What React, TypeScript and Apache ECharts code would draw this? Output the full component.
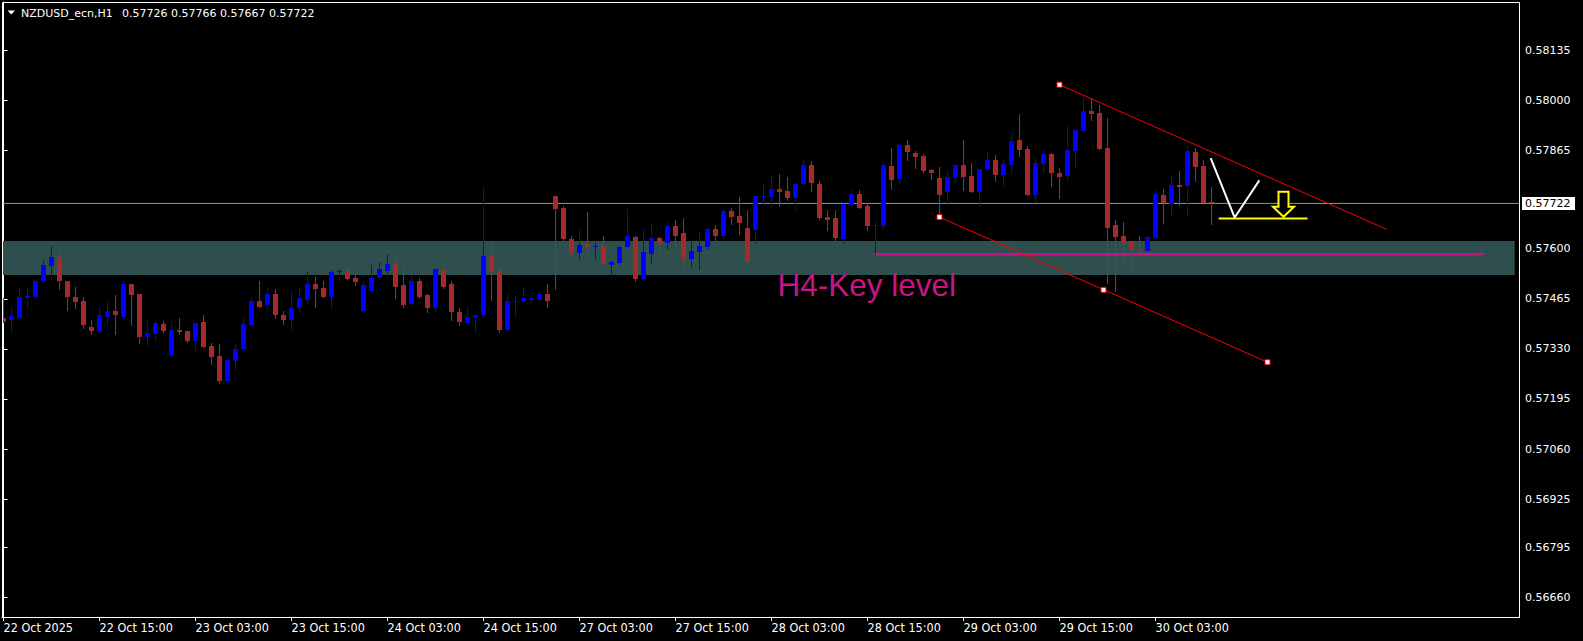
import React, { useEffect, useRef } from "react";
import * as echarts from "echarts";

// ---- chart data (hourly bars, index 0 = 22 Oct 03:00) ----
const opens = [
  0.57414, 0.57407, 0.57414, 0.57467, 0.57469, 0.57512, 0.57552, 0.57577, 0.57512, 0.57469,
  0.57458, 0.57390, 0.57376, 0.57417, 0.57433, 0.57417, 0.57506, 0.57477, 0.57363, 0.57371,
  0.57398, 0.57311, 0.57382, 0.57379, 0.57352, 0.57403, 0.57338, 0.57311, 0.57244, 0.57298,
  0.57330, 0.57395, 0.57460, 0.57447, 0.57479, 0.57422, 0.57409, 0.57439, 0.57463, 0.57506,
  0.57493, 0.57469, 0.57538, 0.57539, 0.57520, 0.57433, 0.57487, 0.57520, 0.57539, 0.57558,
  0.57501, 0.57450, 0.57514, 0.57474, 0.57439, 0.57542, 0.57504, 0.57430, 0.57401, 0.57412,
  0.57420, 0.57580, 0.57539, 0.57382, 0.57455, 0.57458, 0.57463, 0.57463, 0.57479, 0.57742,
  0.57710, 0.57626, 0.57588, 0.57612, 0.57604, 0.57607, 0.57555, 0.57561, 0.57604, 0.57631,
  0.57517, 0.57585, 0.57628, 0.57615, 0.57661, 0.57642, 0.57571, 0.57590, 0.57604, 0.57653,
  0.57634, 0.57702, 0.57688, 0.57655, 0.57650, 0.57739, 0.57739, 0.57761, 0.57756, 0.57737,
  0.57775, 0.57826, 0.57775, 0.57685, 0.57683, 0.57626, 0.57718, 0.57748, 0.57715, 0.57662,
  0.57661, 0.57823, 0.57788, 0.57880, 0.57859, 0.57850, 0.57813, 0.57791, 0.57753, 0.57791,
  0.57826, 0.57796, 0.57753, 0.57815, 0.57840, 0.57799, 0.57826, 0.57894, 0.57870, 0.57745,
  0.57829, 0.57856, 0.57805, 0.57796, 0.57864, 0.57918, 0.57970, 0.57967, 0.57872, 0.57664,
  0.57634, 0.57620, 0.57597, 0.57593, 0.57628, 0.57745, 0.57720, 0.57772, 0.57769, 0.57861,
  0.57823, 0.57726,
];
const highs = [
  0.57466, 0.57444, 0.57496, 0.57496, 0.57518, 0.57569, 0.57607, 0.57590, 0.57512, 0.57496,
  0.57471, 0.57409, 0.57441, 0.57460, 0.57474, 0.57514, 0.57506, 0.57479, 0.57406, 0.57406,
  0.57406, 0.57398, 0.57414, 0.57379, 0.57401, 0.57422, 0.57347, 0.57344, 0.57306, 0.57347,
  0.57417, 0.57471, 0.57512, 0.57496, 0.57490, 0.57433, 0.57482, 0.57496, 0.57536, 0.57523,
  0.57512, 0.57542, 0.57544, 0.57550, 0.57528, 0.57512, 0.57555, 0.57563, 0.57585, 0.57574,
  0.57547, 0.57528, 0.57520, 0.57479, 0.57544, 0.57566, 0.57512, 0.57439, 0.57444, 0.57422,
  0.57764, 0.57620, 0.57550, 0.57477, 0.57474, 0.57496, 0.57477, 0.57487, 0.57504, 0.57742,
  0.57715, 0.57634, 0.57653, 0.57699, 0.57618, 0.57634, 0.57566, 0.57607, 0.57707, 0.57634,
  0.57653, 0.57666, 0.57631, 0.57672, 0.57677, 0.57683, 0.57620, 0.57645, 0.57658, 0.57664,
  0.57707, 0.57710, 0.57739, 0.57704, 0.57742, 0.57777, 0.57799, 0.57802, 0.57794, 0.57777,
  0.57840, 0.57837, 0.57783, 0.57704, 0.57704, 0.57726, 0.57758, 0.57758, 0.57723, 0.57672,
  0.57834, 0.57872, 0.57883, 0.57894, 0.57864, 0.57856, 0.57815, 0.57821, 0.57810, 0.57826,
  0.57894, 0.57832, 0.57815, 0.57861, 0.57853, 0.57842, 0.57913, 0.57962, 0.57878, 0.57845,
  0.57867, 0.57859, 0.57818, 0.57932, 0.57921, 0.58010, 0.58005, 0.57986, 0.57951, 0.57677,
  0.57672, 0.57620, 0.57634, 0.57634, 0.57758, 0.57761, 0.57796, 0.57810, 0.57880, 0.57872,
  0.57840, 0.57766,
];
const lows = [
  0.57402, 0.57376, 0.57414, 0.57441, 0.57469, 0.57512, 0.57518, 0.57490, 0.57436, 0.57441,
  0.57387, 0.57371, 0.57376, 0.57395, 0.57371, 0.57414, 0.57395, 0.57347, 0.57341, 0.57357,
  0.57376, 0.57311, 0.57371, 0.57349, 0.57328, 0.57336, 0.57290, 0.57238, 0.57244, 0.57276,
  0.57330, 0.57395, 0.57444, 0.57441, 0.57412, 0.57398, 0.57382, 0.57433, 0.57450, 0.57444,
  0.57469, 0.57439, 0.57512, 0.57517, 0.57501, 0.57433, 0.57487, 0.57517, 0.57528, 0.57466,
  0.57444, 0.57447, 0.57466, 0.57428, 0.57428, 0.57493, 0.57409, 0.57393, 0.57401, 0.57379,
  0.57417, 0.57463, 0.57376, 0.57379, 0.57422, 0.57458, 0.57455, 0.57463, 0.57444, 0.57490,
  0.57622, 0.57582, 0.57574, 0.57593, 0.57574, 0.57555, 0.57528, 0.57558, 0.57604, 0.57512,
  0.57515, 0.57561, 0.57593, 0.57599, 0.57609, 0.57550, 0.57553, 0.57544, 0.57599, 0.57623,
  0.57628, 0.57666, 0.57639, 0.57563, 0.57615, 0.57723, 0.57710, 0.57715, 0.57731, 0.57704,
  0.57772, 0.57756, 0.57680, 0.57650, 0.57620, 0.57615, 0.57712, 0.57710, 0.57650, 0.57585,
  0.57653, 0.57761, 0.57777, 0.57840, 0.57818, 0.57807, 0.57788, 0.57685, 0.57720, 0.57780,
  0.57758, 0.57753, 0.57715, 0.57815, 0.57783, 0.57769, 0.57807, 0.57850, 0.57745, 0.57729,
  0.57810, 0.57769, 0.57737, 0.57788, 0.57818, 0.57918, 0.57948, 0.57870, 0.57507, 0.57485,
  0.57563, 0.57539, 0.57577, 0.57593, 0.57628, 0.57669, 0.57688, 0.57718, 0.57688, 0.57783,
  0.57723, 0.57667,
];
const closes = [
  0.57403, 0.57418, 0.57469, 0.57472, 0.57514, 0.57555, 0.57577, 0.57512, 0.57469, 0.57455,
  0.57393, 0.57379, 0.57420, 0.57433, 0.57420, 0.57504, 0.57474, 0.57363, 0.57374, 0.57401,
  0.57379, 0.57382, 0.57376, 0.57352, 0.57401, 0.57336, 0.57309, 0.57244, 0.57301, 0.57330,
  0.57398, 0.57460, 0.57444, 0.57479, 0.57420, 0.57409, 0.57441, 0.57466, 0.57506, 0.57490,
  0.57469, 0.57536, 0.57540, 0.57517, 0.57509, 0.57501, 0.57520, 0.57544, 0.57558, 0.57496,
  0.57447, 0.57514, 0.57471, 0.57439, 0.57544, 0.57498, 0.57428, 0.57403, 0.57417, 0.57422,
  0.57580, 0.57536, 0.57382, 0.57458, 0.57460, 0.57466, 0.57467, 0.57479, 0.57460, 0.57707,
  0.57625, 0.57588, 0.57609, 0.57604, 0.57607, 0.57558, 0.57563, 0.57604, 0.57634, 0.57517,
  0.57590, 0.57628, 0.57615, 0.57661, 0.57634, 0.57571, 0.57593, 0.57607, 0.57653, 0.57634,
  0.57702, 0.57685, 0.57669, 0.57563, 0.57742, 0.57742, 0.57761, 0.57753, 0.57737, 0.57775,
  0.57826, 0.57777, 0.57683, 0.57677, 0.57628, 0.57720, 0.57748, 0.57710, 0.57661, 0.57664,
  0.57826, 0.57786, 0.57880, 0.57861, 0.57848, 0.57810, 0.57805, 0.57745, 0.57794, 0.57826,
  0.57794, 0.57753, 0.57815, 0.57840, 0.57799, 0.57829, 0.57891, 0.57867, 0.57745, 0.57832,
  0.57856, 0.57805, 0.57794, 0.57867, 0.57921, 0.57972, 0.57964, 0.57870, 0.57655, 0.57631,
  0.57615, 0.57596, 0.57594, 0.57631, 0.57748, 0.57723, 0.57772, 0.57767, 0.57864, 0.57821,
  0.57723, 0.57722,
];

// time axis ticks (bar index -> label)
const tickIndexes = [0, 12, 24, 36, 48, 60, 72, 84, 96, 108, 120, 132, 144];
const tickLabels = [
  "22 Oct 2025", "22 Oct 15:00", "23 Oct 03:00", "23 Oct 15:00", "24 Oct 03:00",
  "24 Oct 15:00", "27 Oct 03:00", "27 Oct 15:00", "28 Oct 03:00", "28 Oct 15:00",
  "29 Oct 03:00", "29 Oct 15:00", "30 Oct 03:00",
];
// price scale labels
const priceTicks = [
  0.58135, 0.58, 0.57865, 0.576, 0.57465, 0.5733, 0.57195, 0.5706, 0.56925, 0.56795, 0.5666,
];

const symbolTitle = "NZDUSD_ecn,H1";
const lastBarOHLC = [0.57726, 0.57766, 0.57667, 0.57722];

// drawn objects (bar index, price)
const zoneBars = [-2, 188.9];
const zonePrices = [0.57529, 0.5762];
const keyLevelLine = [[109, 0.57585], [185, 0.57585]];
const channelUpper = [[132, 0.58042], [172.9, 0.57652]];
const channelLower = [[117, 0.57685], [158, 0.57294]];
const channelAnchors = [[132, 0.58042], [117, 0.57685], [137.5, 0.57489], [158, 0.57294]];
const vPath = [[150.9, 0.57844], [153.9, 0.57684], [156.98, 0.57784]];
const targetLine = [[151.9, 0.57681], [163, 0.57681]];
const arrowTip = [[160, 0.57686]];
const keyLabel = [[96.75, 0.57501, "H4-Key level"]];

// axis ranges
const X_MIN = -0.1875;
const X_MAX = 189.4375;
const Y_MIN = 0.566072;
const Y_MAX = 0.582649;

const BULL = "#0000FF";
const BEAR = "#A52A2A";

export default function App() {
  const ref = useRef<HTMLDivElement>(null);

  useEffect(() => {
    if (!ref.current) return;
    const chart = echarts.init(ref.current, undefined, { renderer: "svg" });

    const candleData = opens.map((o, i) => [i, o, highs[i], lows[i], closes[i]]);
    const lastClose = closes[closes.length - 1];

    const labelFont = '"Liberation Sans Narrow", "DejaVu Sans Condensed", "Liberation Sans", sans-serif';

    const option: any = {
      animation: false,
      backgroundColor: "#000000",
      grid: {
        left: 2,
        top: 2,
        width: 1517,
        height: 615,
        show: false,
        containLabel: false,
        outerBoundsMode: "none",
      },
      xAxis: {
        type: "value",
        min: X_MIN,
        max: X_MAX,
        position: "bottom",
        splitLine: { show: false },
        axisLine: { show: true, lineStyle: { color: "#ffffff", width: 1 } },
        axisTick: {
          show: true,
          customValues: tickIndexes,
          length: 4,
          lineStyle: { color: "#ffffff", width: 1 },
        },
        axisLabel: {
          show: true,
          customValues: tickIndexes,
          formatter: (v: number) => tickLabels[tickIndexes.indexOf(Math.round(v))] ?? "",
          color: "#ffffff",
          fontFamily: labelFont,
          fontSize: 12.5,
          align: "left",
          margin: 4,
        },
      },
      yAxis: {
        type: "value",
        min: Y_MIN,
        max: Y_MAX,
        position: "right",
        scale: true,
        splitLine: { show: false },
        axisLine: { show: true, lineStyle: { color: "#ffffff", width: 1 } },
        axisTick: {
          show: true,
          customValues: priceTicks,
          length: 4,
          lineStyle: { color: "#ffffff", width: 1 },
        },
        axisLabel: {
          show: true,
          customValues: priceTicks,
          formatter: (v: number) => v.toFixed(5),
          color: "#ffffff",
          fontFamily: '"DejaVu Sans", sans-serif',
          fontSize: 11,
          align: "left",
          margin: 6,
        },
      },
      graphic: {
        elements: [
          {
            type: "rect",
            silent: true,
            z: 100,
            shape: { x: 2.5, y: 2.5, width: 1517, height: 615 },
            style: { fill: "transparent", stroke: "#ffffff", lineWidth: 1 },
          },
          {
            type: "polygon",
            silent: true,
            z: 100,
            shape: { points: [[7.5, 10.5], [15, 10.5], [11.25, 14.5]] },
            style: { fill: "#ffffff" },
          },
          {
            type: "text",
            silent: true,
            z: 100,
            x: 21,
            y: 13,
            style: {
              text: symbolTitle,
              fill: "#ffffff",
              fontSize: 11,
              fontFamily: '"DejaVu Sans", sans-serif',
              verticalAlign: "middle",
              align: "left",
            },
          },
          {
            type: "text",
            silent: true,
            z: 100,
            x: 122,
            y: 13,
            style: {
              text: lastBarOHLC.map((v) => v.toFixed(5)).join(" "),
              fill: "#ffffff",
              fontSize: 11,
              fontFamily: '"DejaVu Sans", sans-serif',
              verticalAlign: "middle",
              align: "left",
            },
          },
        ],
      },
      series: [
        {
          name: "zone",
          type: "custom",
          z: 1,
          silent: true,
          clip: true,
          data: [[zoneBars[0], zoneBars[1], zonePrices[0], zonePrices[1]]],
          renderItem: (params: any, api: any) => {
            const a = api.coord([api.value(0), api.value(3)]);
            const b = api.coord([api.value(1), api.value(2)]);
            const cs = params.coordSys;
            const x1 = Math.max(a[0], cs.x);
            const x2 = Math.min(b[0], cs.x + cs.width);
            return {
              type: "rect",
              shape: { x: x1, y: Math.round(a[1]), width: x2 - x1, height: Math.round(b[1]) - Math.round(a[1]) },
              style: { fill: "#2F4F4F" },
            };
          },
        },
        {
          name: "bid",
          type: "line",
          z: 2,
          silent: true,
          symbol: "none",
          showSymbol: false,
          data: [[X_MIN, lastClose], [X_MAX, lastClose]],
          lineStyle: { color: "#8C96A0", width: 1 },
        },
        {
          name: "bidLabel",
          type: "custom",
          z: 10,
          silent: true,
          clip: false,
          data: [[X_MAX, lastClose]],
          renderItem: (params: any, api: any) => {
            const p = api.coord([api.value(0), api.value(1)]);
            const y = Math.round(p[1]);
            return {
              type: "group",
              children: [
                { type: "rect", shape: { x: p[0] + 3, y: y - 6, width: 53, height: 13 }, style: { fill: "#ffffff" } },
                {
                  type: "text",
                  x: p[0] + 6,
                  y: y + 0.5,
                  style: {
                    text: api.value(1).toFixed(5),
                    fill: "#000000",
                    fontSize: 11,
                    fontFamily: '"DejaVu Sans", sans-serif',
                    verticalAlign: "middle",
                    align: "left",
                  },
                },
              ],
            };
          },
        },
        {
          name: "candles",
          type: "custom",
          z: 3,
          silent: true,
          clip: true,
          data: candleData,
          encode: { x: 0, y: [1, 2, 3, 4] },
          renderItem: (params: any, api: any) => {
            const i = api.value(0);
            const o = api.value(1);
            const h = api.value(2);
            const l = api.value(3);
            const c = api.value(4);
            const po = api.coord([i, o]);
            const pc = api.coord([i, c]);
            const ph = api.coord([i, h]);
            const pl = api.coord([i, l]);
            const cx = Math.floor(po[0]) + 0.5;
            const col = c > o ? BULL : BEAR;
            const top = Math.round(Math.min(po[1], pc[1]));
            const bot = Math.round(Math.max(po[1], pc[1]));
            return {
              type: "group",
              children: [
                {
                  type: "line",
                  shape: { x1: cx, y1: Math.round(ph[1]), x2: cx, y2: Math.round(pl[1]) + 1 },
                  style: { stroke: col, lineWidth: 1 },
                },
                {
                  type: "rect",
                  shape: { x: cx - 2.5, y: top, width: 5, height: Math.max(bot - top, 1) },
                  style: { fill: col },
                },
              ],
            };
          },
        },
        {
          name: "keyLabel",
          type: "custom",
          z: 4,
          silent: true,
          clip: false,
          data: keyLabel,
          renderItem: (params: any, api: any) => {
            const p = api.coord([api.value(0), api.value(1)]);
            return {
              type: "text",
              x: p[0],
              y: p[1],
              style: {
                text: keyLabel[params.dataIndex][2] as string,
                fill: "#C71585",
                fontSize: 31.5,
                fontFamily: '"Liberation Sans", Arial, sans-serif',
                verticalAlign: "middle",
                align: "left",
              },
            };
          },
        },
        {
          name: "keyLevel",
          type: "line",
          z: 5,
          silent: true,
          symbol: "none",
          showSymbol: false,
          data: keyLevelLine,
          lineStyle: { color: "#C71585", width: 2.5 },
        },
        {
          name: "channelUpper",
          type: "line",
          z: 5,
          silent: true,
          symbol: "none",
          showSymbol: false,
          data: channelUpper,
          lineStyle: { color: "#FF0000", width: 1 },
        },
        {
          name: "channelLower",
          type: "line",
          z: 5,
          silent: true,
          symbol: "none",
          showSymbol: false,
          data: channelLower,
          lineStyle: { color: "#FF0000", width: 1 },
        },
        {
          name: "anchors",
          type: "scatter",
          z: 6,
          silent: true,
          symbol: "rect",
          symbolSize: 5,
          data: channelAnchors,
          itemStyle: { color: "#FFFFFF", borderColor: "#FF0000", borderWidth: 1, opacity: 1 },
        },
        {
          name: "vPath",
          type: "line",
          z: 6,
          silent: true,
          symbol: "none",
          showSymbol: false,
          data: vPath,
          lineStyle: { color: "#FFFFFF", width: 2 },
        },
        {
          name: "target",
          type: "line",
          z: 6,
          silent: true,
          symbol: "none",
          showSymbol: false,
          data: targetLine,
          lineStyle: { color: "#FFFF00", width: 2 },
        },
        {
          name: "arrow",
          type: "custom",
          z: 7,
          silent: true,
          clip: false,
          data: arrowTip,
          renderItem: (params: any, api: any) => {
            const p = api.coord([api.value(0), api.value(1)]);
            const tx = p[0];
            const ty = p[1];
            return {
              type: "polygon",
              shape: {
                points: [
                  [tx, ty],
                  [tx - 10.5, ty - 10],
                  [tx - 5, ty - 10],
                  [tx - 5, ty - 25],
                  [tx + 5, ty - 25],
                  [tx + 5, ty - 10],
                  [tx + 10.5, ty - 10],
                ],
              },
              style: { fill: "#000000", stroke: "#FFFF00", lineWidth: 2 },
            };
          },
        },
      ],
    };

    chart.setOption(option);
    return () => {
      chart.dispose();
    };
  }, []);

  return (
    <div
      ref={ref}
      style={{ position: "absolute", left: 0, top: 0, width: 1583, height: 641, background: "#000000" }}
    />
  );
}
